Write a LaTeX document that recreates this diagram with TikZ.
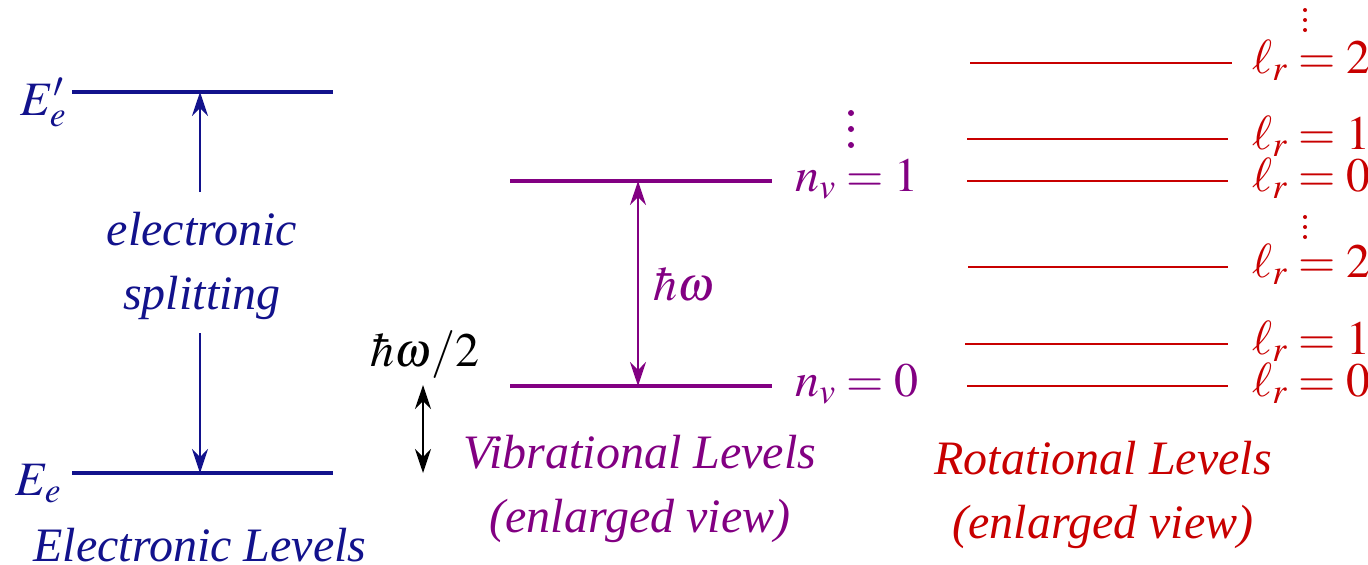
\documentclass[tikz,border=0pt]{standalone}
\usepackage{mathptmx}
\usepackage{fontspec}
\setmainfont{Liberation Serif}
\usetikzlibrary{arrows.meta}
\definecolor{Navy}{HTML}{12128C}
\definecolor{Plum}{HTML}{820082}
\definecolor{Crimson}{HTML}{C80000}
\tikzset{
  elvl/.style={draw=Navy,line width=2pt},
  vlvl/.style={draw=Plum,line width=1.6pt},
  rlvl/.style={draw=Crimson,line width=1.1pt},
  uparrow/.style={-{Stealth[length=12pt,width=8pt,inset=4pt]},line width=1pt},
  gap/.style={{Stealth[length=12pt,width=8pt,inset=4pt]}-{Stealth[length=12pt,width=8pt,inset=4pt]},line width=1pt},
  caption/.style={align=center,inner sep=0pt}
}

\begin{document}
\begin{tikzpicture}[x=0.5pt,y=-0.5pt,font=\fontsize{24}{32}\selectfont\itshape]
  \useasboundingbox (0,0) rectangle (1368,564);

  % electronic levels
  \draw[elvl] (72,92) -- (333,92);
  \draw[elvl] (72,473) -- (333,473);
  \node[text=Navy,anchor=base east,inner sep=0pt] (eup) at (67,115) {$E'_e$};
  \node[text=Navy,anchor=base east,inner sep=0pt] (elo) at (62,495) {$E_e$};
  \coordinate (Eup) at (200,92);
  \coordinate (Elo) at (200,473);
  \coordinate (sA) at (200,192);
  \coordinate (sB) at (200,333);
  \node[caption,text=Navy] (split) at (202,266) {electronic\\splitting};
  \draw[uparrow,Navy] (sA) -- (Eup);
  \draw[uparrow,Navy] (sB) -- (Elo);
  \node[caption,text=Navy] (ecap) at (200,545) {Electronic Levels};

  % vibrational levels
  \draw[vlvl] (510,181) -- (772,181);
  \draw[vlvl] (510,386) -- (772,386);
  \node[text=Plum,anchor=base west,inner sep=0pt] (nv1) at (795,191) {$n_v=1$};
  \node[text=Plum,anchor=base west,inner sep=0pt] (nv0) at (795,396) {$n_v=0$};
  \foreach \y in {113,129,145}
    \fill[Plum] (851,\y) circle[radius=1.5pt];
  \coordinate (V1) at (638,181);
  \coordinate (V0) at (638,386);
  \draw[gap,Plum] (V0) -- (V1);
  \node[text=Plum] (hw) at (684,285) {$\hbar\omega$};
  \node[caption,text=Plum] (vcap) at (640,489) {Vibrational Levels\\(enlarged view)};

  % zero point
  \node (hw2) at (425,355) {$\hbar\omega/2$};
  \coordinate (zA) at (423,385);
  \coordinate (zB) at (423,473);
  \draw[gap] (zA) -- (zB);

  % rotational levels
  \foreach \y/\xa/\xb/\l in {63/970/1232/2,139/967/1228/1,181/967/1228/0,267/968/1228/2,344/965/1228/1,386/967/1228/0}{
    \draw[rlvl] (\xa,\y) -- (\xb,\y);
    \node[text=Crimson,anchor=base west,inner sep=0pt] (r\y) at (1252,\y+10) {$\ell_r=\l$};
  }
  \foreach \y in {10,20,30,217,227,237}
    \fill[Crimson] (1305,\y) circle[radius=1pt];
  \node[caption,text=Crimson] (rcap) at (1103,495) {Rotational Levels\\(enlarged view)};
\end{tikzpicture}
\end{document}
